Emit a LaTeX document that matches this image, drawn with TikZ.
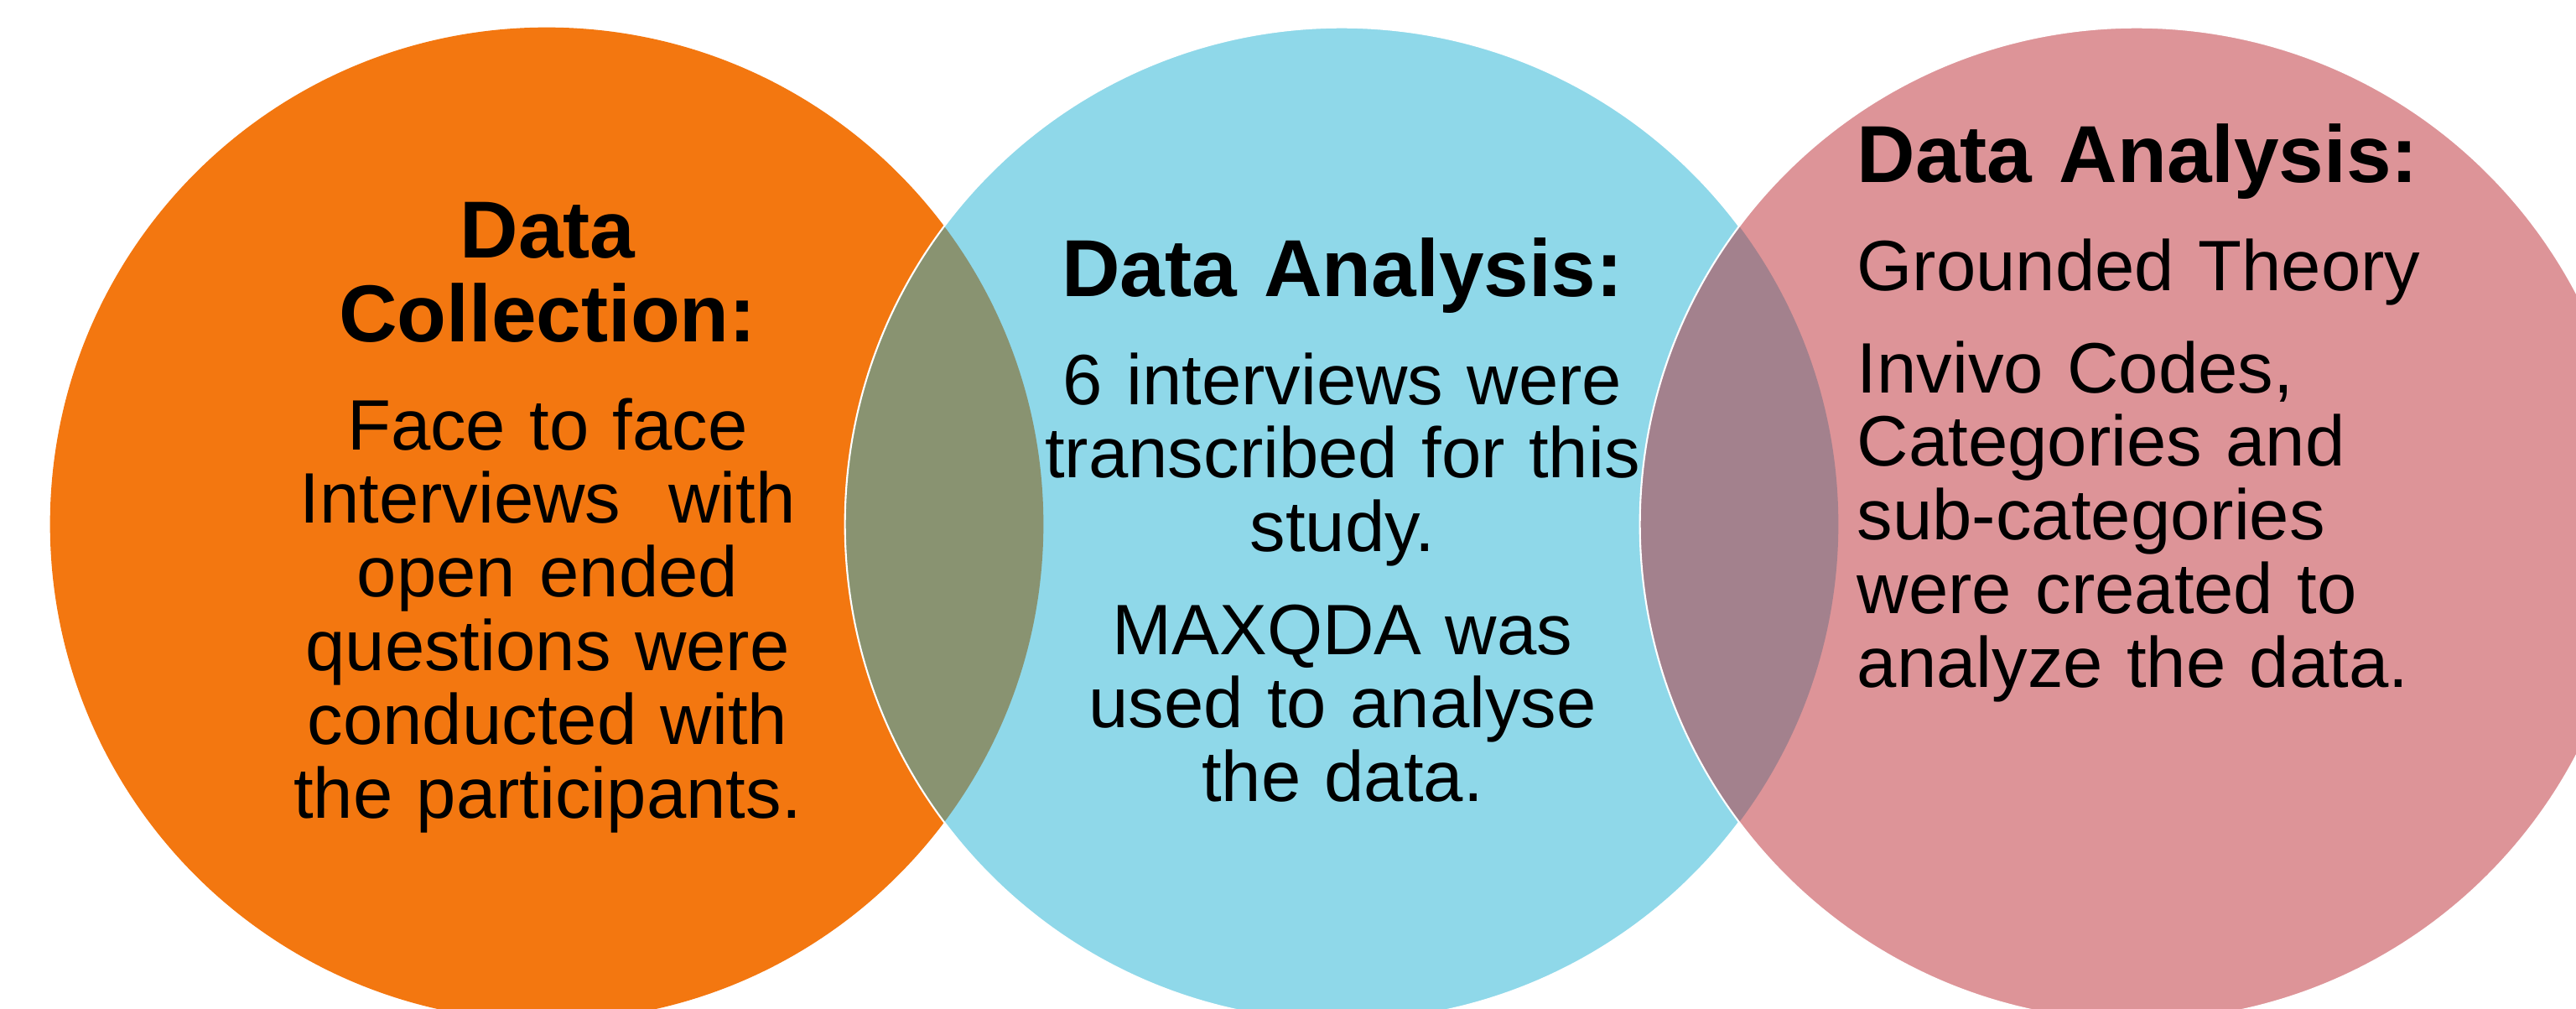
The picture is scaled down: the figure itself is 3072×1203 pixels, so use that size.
\documentclass[tikz,border=0pt]{standalone}
\usepackage{fontspec}
\setmainfont{Liberation Sans}
\definecolor{collect}{RGB}{243,119,16}
\definecolor{analysisA}{RGB}{143,216,233}
\definecolor{analysisB}{RGB}{221,148,152}
\definecolor{overlapA}{RGB}{137,147,113}
\definecolor{overlapB}{RGB}{163,129,141}

\begin{document}
\begin{tikzpicture}[x=0.01cm, y=-0.01cm,
  head/.style={inner sep=0pt, text width=10cm, align=center,
    font=\fontsize{27.4}{28.45}\selectfont\bfseries},
  body/.style={inner sep=0pt, text width=10cm, align=center,
    font=\fontsize{24.2}{25}\selectfont},
  rim/.style={white, line width=0.6pt}]
  \useasboundingbox (0,0) rectangle (3072,1203);
  \clip (0,0) rectangle (3072,1203);
  \coordinate (c1) at (652,625);
  \coordinate (c2) at (1600,625);
  \coordinate (c3) at (2548,625);
  % circles and their overlaps
  \fill[collect] (c1) circle[radius=5.92cm];
  \fill[analysisA] (c2) circle[radius=5.92cm];
  \begin{scope}
    \clip (c1) circle[radius=5.92cm];
    \fill[overlapA] (c2) circle[radius=5.92cm];
  \end{scope}
  \draw[rim] (c2) circle[radius=5.92cm];
  \fill[analysisB] (c3) circle[radius=5.92cm];
  \begin{scope}
    \clip (c2) circle[radius=5.92cm];
    \fill[overlapB] (c3) circle[radius=5.92cm];
  \end{scope}
  \draw[rim] (c3) circle[radius=5.92cm];
  % texts
  \node[head, anchor=base] (collecthead) at (653,307) {Data\\Collection:};
  \node[body, anchor=base] (collectbody) at (653,536)
    {Face to face\\Interviews \ with\\open ended\\questions were\\conducted with\\the participants.};
  \node[head, anchor=base] (transhead) at (1601,353) {Data Analysis:};
  \node[body, anchor=base] (transbody) at (1601,482)
    {6 interviews were\\transcribed for this\\study.};
  \node[body, anchor=base] (toolbody) at (1601,780)
    {MAXQDA was\\used to analyse\\the data.};
  \node[head, anchor=base west, align=left, text width=8.5cm] (codehead) at (2214,217) {Data Analysis:};
  \node[body, anchor=base west, align=left, text width=8.5cm] (theorybody) at (2214,346) {Grounded Theory};
  \node[body, anchor=base west, align=left, text width=8.5cm] (codebody) at (2214,468)
    {Invivo Codes,\\Categories and\\sub-categories\\were created to\\analyze the data.};
\end{tikzpicture}
\end{document}
